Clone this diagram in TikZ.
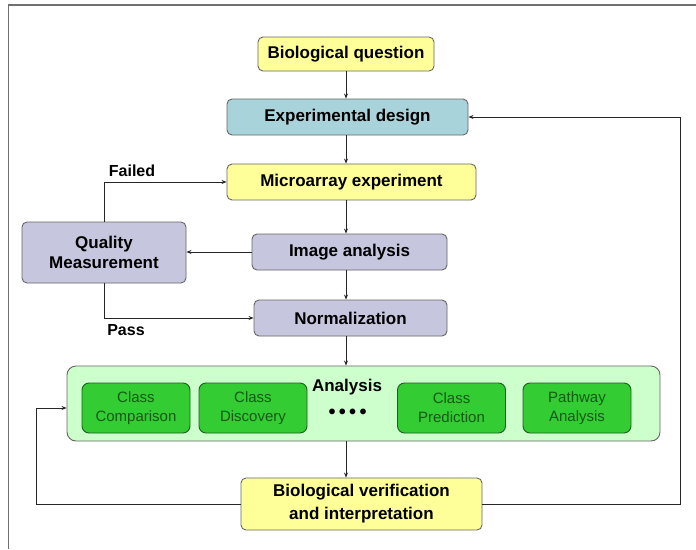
\documentclass[tikz,border=0pt]{standalone}
\usepackage{fontspec}
\setmainfont{Liberation Sans}
\usetikzlibrary{arrows.meta}
\definecolor{ylw}{HTML}{FFFF99}
\definecolor{blu}{HTML}{A9D3DB}
\definecolor{lav}{HTML}{C6C6DE}
\definecolor{lgrn}{HTML}{CCFFCC}
\definecolor{grn}{HTML}{33CC33}
\definecolor{dgrn}{HTML}{145A14}
\definecolor{gbdr}{HTML}{1E5E1E}
\definecolor{frm}{HTML}{707070}
\definecolor{bdr}{HTML}{666666}
\tikzset{
  box/.style={draw=bdr, line width=0.9pt, rounded corners=5pt, inner sep=0pt, align=center,
     font=\bfseries\fontsize{17}{20}\selectfont},
  ybox/.style={box, fill=ylw},
  bbox/.style={box, fill=blu},
  lbox/.style={box, fill=lav},
  abox/.style={draw=bdr, line width=0.9pt, rounded corners=9pt, fill=lgrn, inner sep=0pt},
  gbox/.style={draw=gbdr, line width=0.9pt, rounded corners=7pt, fill=grn, inner sep=0pt,
     align=center, text=dgrn, font=\fontsize{15}{19}\selectfont, minimum width=108pt, minimum height=50pt},
  arr/.style={draw=black!85, line width=0.8pt, -{Stealth[length=5pt,width=4pt]}},
  lbl/.style={font=\bfseries\fontsize{16}{18}\selectfont, inner sep=0pt},
}
\begin{document}
\begin{tikzpicture}[x=1pt,y=-1pt]
\useasboundingbox (0,0) rectangle (696,549);
\fill[white] (0,0) rectangle (696,549);
\draw[frm, line width=1.5pt] (696,5) -- (8.5,5) -- (8.5,549);

\coordinate (col) at (346,0);
\coordinate (rr) at (680,0);
\coordinate (ll) at (36,0);

\node[ybox, minimum width=176pt, minimum height=34pt] (bq) at (346,54) {Biological question};
\node[bbox, minimum width=241pt, minimum height=36pt] (ed) at (347.5,117) {Experimental design};
\node[ybox, minimum width=249pt, minimum height=36pt] (me) at (351.5,182) {Microarray experiment};
\node[lbox, minimum width=164pt, minimum height=61pt] (qm) at (104,252.5) {Quality\\Measurement};
\node[lbox, minimum width=195pt, minimum height=36pt] (ia) at (349.5,252) {Image analysis};
\node[lbox, minimum width=193pt, minimum height=36pt] (nr) at (350.5,318) {Normalization};
\node[abox, minimum width=593pt, minimum height=75pt] (an) at (363.5,403.5) {};
\node[gbox] (cc) at (136,408) {Class\\Comparison};
\node[gbox] (cd) at (253,408) {Class\\Discovery};
\node[gbox] (cp) at (451.5,408) {Class\\Prediction};
\node[gbox] (pa) at (577,408) {Pathway\\Analysis};
\node[lbl, font=\bfseries\fontsize{17}{19}\selectfont] (antitle) at (347,387) {Analysis};
\node[lbl, font=\bfseries\fontsize{20}{20}\selectfont] (dots) at (347.5,414) {•\,•\,•\,•};
\node[ybox, minimum width=241pt, minimum height=52pt, font=\bfseries\fontsize{17}{23}\selectfont] (bv) at (361.5,504) {Biological verification\\and interpretation};

\node[lbl] (failed) at (132,171) {Failed};
\node[lbl] (pass) at (126,330) {Pass};

\draw[arr] (bq.south -| col) -- (ed.north -| col);
\draw[arr] (ed.south -| col) -- (me.north -| col);
\draw[arr] (me.south -| col) -- (ia.north -| col);
\draw[arr] (ia.south -| col) -- (nr.north -| col);
\draw[arr] (nr.south -| col) -- (an.north -| col);
\draw[arr] (an.south -| col) -- (bv.north -| col);
\draw[arr] (ia.west) -- (ia.west -| qm.east);
\draw[arr] (qm.north) |- (me.west);
\draw[arr] (qm.south) |- (nr.west);
\draw[arr] (bv.east) -- (bv.east -| rr) |- (ed.east);
\draw[arr] (bv.west) -- (bv.west -| ll) |- (an.west |- cc);
\end{tikzpicture}
\end{document}
